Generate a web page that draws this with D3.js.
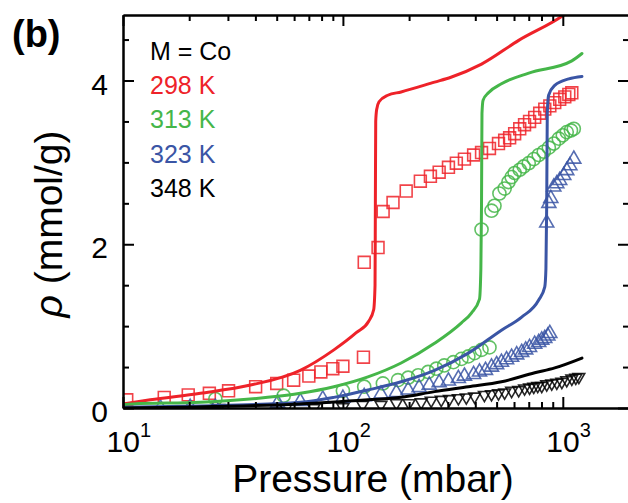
<!DOCTYPE html>
<html>
<head>
<meta charset="utf-8">
<script src="https://cdn.jsdelivr.net/npm/d3@7"></script>
<style>
  body { margin: 0; background: #fff; }
  svg { display: block; }
  text { font-family: "Liberation Sans", Arial, Helvetica, sans-serif; }
</style>
</head>
<body>
<script>
// model curves, [pressure (mbar), rho (mmol/g)]
const fit298 = [[10, 0.05], [13.3, 0.1], [22.5, 0.18], [38, 0.28], [64, 0.46], [91, 0.71], [115, 0.92], [131, 1.06],
  [138, 1.2], [140, 1.5], [140.5, 2.5], [141, 3.5], [142.5, 3.65], [146, 3.74], [160, 3.82], [184, 3.86], [261, 3.98],
  [310, 4.04], [427, 4.2], [630, 4.49], [1010, 4.8], [1220, 4.97]]
const fit313 = [[10, 0.04], [11.1, 0.05], [22.5, 0.07], [45.5, 0.13], [64, 0.18], [91, 0.26], [130, 0.38], [184, 0.55],
  [261, 0.79], [346, 1.04], [384, 1.16], [418, 1.33], [424, 1.7], [427, 2.5], [429, 3.6], [434, 3.76], [459, 3.85],
  [526, 3.96], [700, 4.09], [1099, 4.24], [1222, 4.33]]
const fit323 = [[10, 0.01], [22.5, 0.025], [64, 0.07], [91, 0.13], [130, 0.22], [184, 0.32], [261, 0.46], [372, 0.67],
  [526, 0.95], [650, 1.11], [777, 1.32], [828, 1.48], [838, 1.7], [845, 2.5], [850, 3.6], [862, 3.82], [919, 3.94],
  [1065, 4.02], [1222, 4.05]]
const fit348 = [[10, 0.0], [64, 0.05], [130, 0.1], [184, 0.13], [261, 0.2], [372, 0.26], [526, 0.32], [745, 0.43],
  [919, 0.49], [1222, 0.61]]

// measured points
const data298 = [[10.4, 0.10], [15.4, 0.13], [19.8, 0.16], [24.7, 0.18], [30.2, 0.21], [40.1, 0.26], [50, 0.30],
  [59.7, 0.34], [70, 0.39], [79.4, 0.44], [90, 0.48], [100, 0.51], [124, 0.62], [125, 1.78], [144.5, 1.96],
  [152.4, 2.40], [169, 2.51], [194, 2.65], [225, 2.77], [250, 2.83], [274, 2.88], [302, 2.94], [328, 2.99],
  [357, 3.04], [393, 3.09], [427, 3.12], [464, 3.17], [510, 3.23], [544, 3.27], [573, 3.30], [604, 3.35],
  [637, 3.41], [670, 3.46], [706, 3.50], [745, 3.55], [785, 3.60], [828, 3.65], [873, 3.69], [919, 3.73],
  [968, 3.77], [1021, 3.80], [1065, 3.83], [1099, 3.85]]
const data313 = [[26.3, 0.11], [53.8, 0.15], [100, 0.21], [125, 0.26], [152, 0.30], [178, 0.34], [198, 0.37],
  [220, 0.40], [244, 0.44], [266, 0.48], [289, 0.52], [318, 0.56], [346, 0.60], [372, 0.63], [397, 0.67],
  [427, 0.71], [464, 0.74], [427, 2.18], [474, 2.41], [489, 2.47], [515, 2.62], [544, 2.68], [566, 2.76],
  [585, 2.82], [604, 2.87], [637, 2.91], [664, 2.95], [700, 2.99], [738, 3.04], [777, 3.09], [819, 3.13],
  [864, 3.18], [910, 3.23], [959, 3.29], [1000, 3.33], [1042, 3.37], [1089, 3.39], [1122, 3.41]]
const data323 = [[14.8, 0.0], [20.2, 0.01], [26.3, 0.01], [50.5, 0.06], [64, 0.08], [81, 0.11], [100, 0.12],
  [125, 0.14], [149, 0.17], [175, 0.19], [198, 0.22], [222, 0.25], [247, 0.28], [274, 0.31], [302, 0.33],
  [335, 0.36], [357, 0.39], [393, 0.41], [418, 0.44], [445, 0.46], [474, 0.50], [500, 0.53], [526, 0.56],
  [555, 0.59], [585, 0.62], [617, 0.65], [650, 0.68], [678, 0.71], [706, 0.74], [745, 0.78], [777, 0.80],
  [802, 0.83], [828, 0.85], [855, 0.88], [873, 0.91], [845, 2.26], [864, 2.50], [882, 2.56], [910, 2.70],
  [939, 2.74], [968, 2.78], [1010, 2.84], [1042, 2.90], [1077, 2.96], [1122, 3.04]]
const data348 = [[27.2, 0.0], [55, 0.0], [73.8, 0.0], [100, 0.01], [123, 0.04], [149, 0.04], [175, 0.06],
  [200, 0.06], [227, 0.07], [252, 0.09], [280, 0.10], [305, 0.11], [335, 0.12], [364, 0.13], [397, 0.14],
  [440, 0.16], [474, 0.17], [510, 0.18], [544, 0.19], [585, 0.21], [630, 0.22], [670, 0.24], [706, 0.25],
  [738, 0.26], [769, 0.27], [802, 0.27], [845, 0.29], [891, 0.30], [939, 0.31], [990, 0.32], [1042, 0.34],
  [1099, 0.36], [1146, 0.37], [1183, 0.38]]

const temps = ['298 K', '313 K', '323 K', '348 K']
const colors = ['#ee2229', '#45b649', '#3a55a5', '#000000']
const fits = [fit298, fit313, fit323, fit348]
const points = [data298, data313, data323, data348]

const W = 628
const H = 503
const font = '"Liberation Sans", Arial, Helvetica, sans-serif'

const x = d3.scaleLog().domain([10, 2000]).range([123, 629])
const y = d3.scaleLinear().domain([0, 4.8]).range([408, 15])

const svg = d3.select('body').append('svg')
  .attr('width', W)
  .attr('height', H)
  .attr('viewBox', [0, 0, W, H])

svg.append('clipPath').attr('id', 'plot')
  .append('rect')
  .attr('x', x(10)).attr('y', y(4.8))
  .attr('width', x(2000) - x(10)).attr('height', y(0) - y(4.8))

// markers first, curves on top of them
const symbols = [
  { type: d3.symbolSquare, size: 140, rot: 0 },
  { type: d3.symbolCircle, size: 135, rot: 0 },
  { type: d3.symbolTriangle, size: 85, rot: 0 },
  { type: d3.symbolTriangle, size: 60, rot: 180 }
]

const marks = svg.append('g').attr('clip-path', 'url(#plot)')
points.forEach((pts, i) => {
  marks.append('g')
    .selectAll('path')
    .data(pts).enter()
    .append('path')
    .attr('d', d3.symbol().type(symbols[i].type).size(symbols[i].size))
    .attr('transform', d => `translate(${x(d[0])},${y(d[1])}) rotate(${symbols[i].rot})`)
    .attr('fill', 'none')
    .attr('stroke', colors[i])
    .attr('stroke-width', 1.6)
    .attr('stroke-opacity', 0.85)
})

const line = d3.line()
  .x(d => x(d[0]))
  .y(d => y(d[1]))
  .curve(d3.curveMonotoneX)

svg.append('g')
  .attr('clip-path', 'url(#plot)')
  .selectAll('path')
  .data(fits).enter()
  .append('path')
  .attr('d', line)
  .attr('fill', 'none')
  .attr('stroke', (d, i) => colors[i])
  .attr('stroke-width', 3)
  .attr('stroke-linecap', 'round')

// frame and ticks, all pointing inwards
const majorX = [10, 100, 1000]
const minorX = [20, 30, 40, 50, 60, 70, 80, 90, 200, 300, 400, 500, 600, 700, 800, 900]
const majorY = [0, 2, 4]
const minorY = [0.5, 1, 1.5, 2.5, 3, 3.5, 4.5]

const style = g => g
  .call(g => g.selectAll('.domain').attr('stroke', '#000').attr('stroke-width', 2))
  .call(g => g.selectAll('.tick line').attr('stroke', '#000').attr('stroke-width', 2))
  .call(g => g.selectAll('.tick text').remove())

const axes = [
  [d3.axisBottom(x), `translate(0,${y(0)})`, majorX, minorX],
  [d3.axisTop(x), `translate(0,${y(4.8)})`, majorX, minorX],
  [d3.axisLeft(y), `translate(${x(10)},0)`, majorY, minorY],
  [d3.axisRight(y), `translate(${x(2000)},0)`, majorY, minorY]
]
axes.forEach(([ax, tr, major, minor]) => {
  svg.append('g').attr('transform', tr)
    .call(ax.tickValues(minor).tickSizeInner(-6).tickSizeOuter(0))
    .call(style)
  svg.append('g').attr('transform', tr)
    .call(ax.tickValues(major).tickSizeInner(-11).tickSizeOuter(0))
    .call(style)
})

// tick labels
svg.append('g')
  .selectAll('text')
  .data(majorY).enter()
  .append('text')
  .attr('x', 108)
  .attr('y', d => y(d) + 14)
  .attr('text-anchor', 'end')
  .attr('font-size', 30)
  .text(d => d)

const xLab = svg.append('g')
  .selectAll('text')
  .data(majorX).enter()
  .append('text')
  .attr('x', d => x(d) - 16.5)
  .attr('y', 452)
  .attr('font-size', 30)
xLab.append('tspan').text('10')
xLab.append('tspan')
  .attr('dy', -15)
  .attr('font-size', 20)
  .text(d => Math.round(Math.log10(d)))

svg.append('text')
  .attr('x', 373)
  .attr('y', 492)
  .attr('text-anchor', 'middle')
  .attr('font-size', 39)
  .text('Pressure (mbar)')

const yTitle = svg.append('text')
  .attr('transform', 'translate(62,224) rotate(-90)')
  .attr('text-anchor', 'middle')
  .attr('font-size', 39)
yTitle.append('tspan').attr('font-style', 'italic').text('ρ')
yTitle.append('tspan').text(' (mmol/g)')

svg.append('text')
  .attr('x', 12)
  .attr('y', 47)
  .attr('font-size', 38)
  .attr('font-weight', 'bold')
  .text('(b)')

// legend
const legend = svg.append('g').attr('font-size', 25)
legend.append('text').attr('x', 150).attr('y', 60).attr('fill', '#000').text('M = Co')
legend.selectAll('text.t')
  .data(temps).enter()
  .append('text')
  .attr('class', 't')
  .attr('x', 150)
  .attr('y', (d, i) => 94 + i * 34.3)
  .attr('fill', (d, i) => colors[i])
  .text(d => d)
</script>
</body>
</html>
